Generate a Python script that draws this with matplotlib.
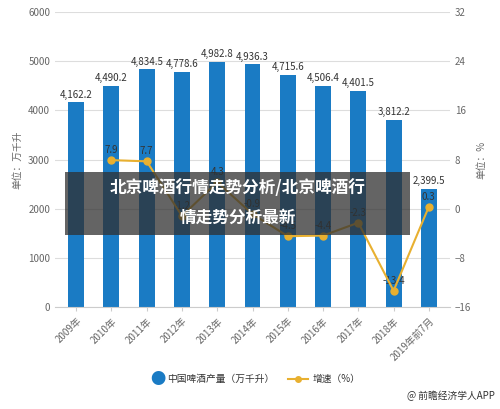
import matplotlib
matplotlib.use('Agg')
import matplotlib.pyplot as plt
from matplotlib.patches import Rectangle

plt.rcParams['font.family'] = ['Noto Sans CJK SC', 'DejaVu Sans']

years = ['2009年', '2010年', '2011年', '2012年', '2013年', '2014年', '2015年',
         '2016年', '2017年', '2018年', '2019年前7月']
output = [4162.2, 4490.2, 4834.5, 4778.6, 4982.8, 4936.3, 4715.6, 4506.4, 4401.5, 3812.2, 2399.5]
growth = [None, 7.9, 7.7, -1.2, 4.3, -0.9, -4.5, -4.4, -2.3, -13.4, 0.3]

BLUE = '#1a7bc4'
GOLD = '#e8b030'
GREY = '#666666'

fig = plt.figure(figsize=(5, 4.09), dpi=100)
ax = fig.add_axes([0.11, 0.25, 0.79, 0.72])
x = list(range(len(years)))
ax.bar(x, output, width=0.45, color=BLUE, zorder=2)
for xi, v in zip(x, output):
    ax.text(xi, v + 60, f'{v:,.1f}', ha='center', va='bottom', fontsize=7, color='#333333', zorder=5)
ax.set_ylim(0, 6000)
ax.set_yticks(range(0, 6001, 1000))
ax.set_xlim(-0.6, len(years) - 0.4)
ax.grid(axis='y', color='#dddddd', lw=0.8, zorder=0)
ax.set_xticks(x)
ax.set_xticklabels(years, rotation=45, ha='right', rotation_mode='anchor', fontsize=7, color=GREY)
ax.tick_params(axis='y', labelsize=7, colors=GREY, length=0)
ax.tick_params(axis='x', length=3, color='#cccccc')
for s in ['top', 'right', 'left']:
    ax.spines[s].set_visible(False)
ax.spines['bottom'].set_color('#cccccc')
ax.set_ylabel('单位：万千升', fontsize=7, color=GREY)

ax2 = ax.twinx()
gx = [xi for xi, g in zip(x, growth) if g is not None]
gy = [g for g in growth if g is not None]
ax2.plot(gx, gy, color=GOLD, lw=1.5, marker='o', ms=5, zorder=4)
for xi, g in zip(gx, gy):
    ax2.text(xi, g + 0.8, f'{g:g}', ha='center', va='bottom', fontsize=7, color='#333333')
ax2.set_ylim(-16, 32)
ax2.set_yticks(range(-16, 33, 8))
ax2.tick_params(axis='y', labelsize=7, colors=GREY, length=0)
for s in ax2.spines.values():
    s.set_visible(False)
ax2.set_ylabel('单位：%', fontsize=7, color=GREY)

# legend
fig.text(0.315, 0.073, '●', fontsize=11, color=BLUE, ha='center', va='center')
fig.text(0.335, 0.073, '中国啤酒产量（万千升）', fontsize=7, color='#333333', va='center')
fig.lines.append(plt.Line2D([0.575, 0.595, 0.615], [0.073, 0.073, 0.073], color=GOLD, lw=1.5,
                            marker='o', ms=4, markevery=[1], transform=fig.transFigure))
fig.text(0.625, 0.073, '增速（%）', fontsize=7, color='#333333', va='center')
fig.text(0.99, 0.02, '@ 前瞻经济学人APP', fontsize=7, color='#333333', ha='right', va='bottom')

# title overlay
fig.patches.append(Rectangle((0.13, 0.425), 0.69, 0.155, transform=fig.transFigure,
                             facecolor='#303030', alpha=0.75, zorder=10))
fig.text(0.475, 0.54, '北京啤酒行情走势分析/北京啤酒行', fontsize=12, fontweight='bold',
         color='white', ha='center', va='center', zorder=11)
fig.text(0.475, 0.468, '情走势分析最新', fontsize=12, fontweight='bold',
         color='white', ha='center', va='center', zorder=11)

fig.savefig('out.png', dpi=100)
